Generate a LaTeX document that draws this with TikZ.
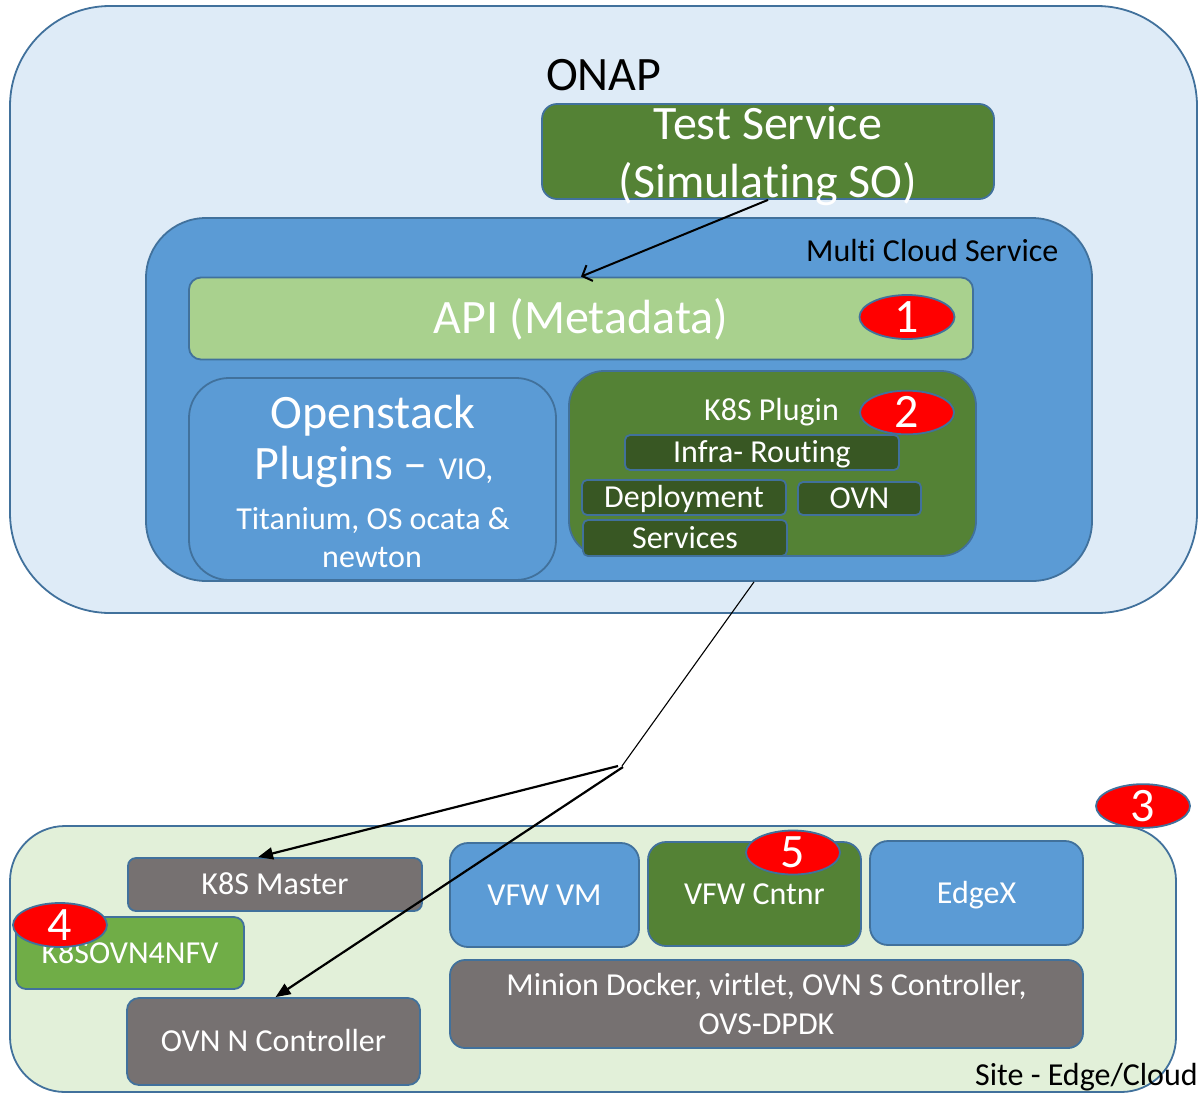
\documentclass[tikz,border=0pt]{standalone}
\usepackage{fontspec}
\setmainfont{Carlito}[Ligatures={NoCommon}]
\usetikzlibrary{shapes.geometric,arrows.meta,calc}
\definecolor{bord}{HTML}{41719C}
\definecolor{onapbg}{HTML}{DEEBF7}
\definecolor{mblue}{HTML}{5B9BD5}
\definecolor{dgreen}{HTML}{548235}
\definecolor{ddgreen}{HTML}{385723}
\definecolor{lgreen}{HTML}{A9D18E}
\definecolor{sitebg}{HTML}{E2F0D9}
\definecolor{mgray}{HTML}{767171}
\definecolor{greentwo}{HTML}{70AD47}
\definecolor{badgered}{HTML}{FF0000}
\begin{document}
\begin{tikzpicture}[x=1pt,y=-1pt,
  box/.style={draw=bord, line width=1.8pt, inner sep=0pt, align=center, text=white},
  fbig/.style={font=\fontsize{48}{58}\selectfont},
  fmid/.style={font=\fontsize{32}{39}\selectfont},
  capb/.style={text height=30.9pt, text depth=0pt},
  capm/.style={text height=20.6pt, text depth=0pt},
  badge/.style={ellipse, draw=bord, line width=1.8pt, fill=badgered, text=white, inner sep=0pt, fbig, capb},
  lbl/.style={inner sep=0pt, anchor=base},
  arrtop/.style={line width=2pt, -{Straight Barb[length=8pt,width=17pt]}},
  arrbot/.style={line width=2.2pt, -{Triangle[length=15pt,width=12pt]}},
  thinline/.style={line width=1.1pt}
]
\useasboundingbox (0,0) rectangle (1198,1093);

% ONAP container
\node[box, fill=onapbg, rounded corners=100pt, minimum width=1187pt, minimum height=607pt] (onap) at (603.5,309.5) {};
\node[lbl, anchor=base west, fbig, text=black] (onaplbl) at (546,90) {ONAP};

% Test service
\node[box, fill=dgreen, rounded corners=15pt, minimum width=452pt, minimum height=95pt, fbig, text height=91pt, text depth=0pt] (ts) at (768,151.5) {Test Service\\(Simulating SO)};

% Multi cloud service
\node[box, fill=mblue, rounded corners=60pt, minimum width=946pt, minimum height=363pt] (mcs) at (619,399.5) {};
\node[lbl, anchor=base west, fmid, text=black] (mcslbl) at (806,261) {Multi Cloud Service};

\node[box, fill=lgreen, rounded corners=12pt, minimum width=784pt, minimum height=82pt, fbig, capb] (api) at (581,318.5) {API (Metadata)};
\node[badge, minimum width=95pt, minimum height=44pt] (b1) at (907,317) {1};

% Openstack plugins
\node[box, fill=mblue, rounded corners=40pt, minimum width=367pt, minimum height=202pt] (os) at (372.5,479) {};
\node[lbl, fbig, text=white] (osa) at (373,428) {Openstack};
\node[lbl, fbig, text=white] (osb) at (374,479) {Plugins – {\fontsize{32}{39}\selectfont VIO,}};
\node[lbl, fmid, text=white] (osc) at (373,529) {Titanium, OS ocata \&};
\node[lbl, fmid, text=white] (osd) at (372,567) {newton};

% K8S plugin
\node[box, fill=dgreen, rounded corners=35pt, minimum width=407pt, minimum height=185pt] (k8sp) at (772.5,463.5) {};
\node[lbl, fmid, text=white] (k8splbl) at (771.5,420) {K8S Plugin};
\node[badge, minimum width=94pt, minimum height=42pt] (b2) at (907,412.5) {2};
\node[box, fill=ddgreen, rounded corners=5pt, minimum width=274pt, minimum height=35pt, fmid, capm] (infra) at (762,452.5) {Infra- Routing};
\node[box, fill=ddgreen, rounded corners=5pt, minimum width=204pt, minimum height=35pt, fmid, capm] (dep) at (684,497.5) {Deployment};
\node[box, fill=ddgreen, rounded corners=5pt, minimum width=123pt, minimum height=33pt, fmid, capm] (ovn) at (859.5,498.5) {OVN};
\node[box, fill=ddgreen, rounded corners=5pt, minimum width=204pt, minimum height=36pt, fmid, capm] (svc) at (685,538) {Services};

% Site
\node[box, fill=sitebg, rounded corners=55pt, minimum width=1166pt, minimum height=266pt] (site) at (593,959) {};
\node[lbl, anchor=base west, fmid, text=black] (sitelbl) at (975,1085) {Site - Edge/Cloud};
\node[badge, minimum width=94pt, minimum height=42pt] (b3) at (1143,806) {3};

\node[box, fill=mgray, rounded corners=8pt, minimum width=294pt, minimum height=53pt, fmid, capm] (k8sm) at (275,884.5) {K8S Master};
\node[box, fill=greentwo, rounded corners=10pt, minimum width=228pt, minimum height=72pt, fmid, capm] (k8so) at (130,953) {K8SOVN4NFV};
\node[badge, minimum width=94pt, minimum height=44pt] (b4) at (60,925) {4};
\node[box, fill=mgray, rounded corners=12pt, minimum width=293pt, minimum height=87pt, fmid, capm] (ovnn) at (273.5,1041.5) {OVN N Controller};

\node[box, fill=mblue, rounded corners=18pt, minimum width=189pt, minimum height=104pt, fmid, capm] (vfwvm) at (544.5,895) {VFW VM};
\node[box, fill=dgreen, rounded corners=18pt, minimum width=213pt, minimum height=104pt, fmid, capm] (vfwc) at (754.5,894) {VFW Cntnr};
\node[badge, minimum width=94pt, minimum height=44pt] (b5) at (793,852.5) {5};
\node[box, fill=mblue, rounded corners=18pt, minimum width=213pt, minimum height=104pt, fmid, capm] (edgex) at (976.5,893) {EdgeX};
\node[box, fill=mgray, rounded corners=15pt, minimum width=633pt, minimum height=88pt, fmid] (minion) at (766.5,1004) {Minion Docker, virtlet, OVN S Controller,\\OVS-DPDK};

% connectors
\draw[arrtop] (ts.south) -- (api.north);
\coordinate (j) at (622,766);
\draw[thinline] ($(mcs.south)+(135,0)$) -- (j);
\draw[arrbot] ($(j)+(-4,0)$) -- ($(k8sm.north)+(-17,0)$);
\draw[arrbot] ($(j)+(1,1)$) -- ($(ovnn.north)+(2,0)$);
\end{tikzpicture}
\end{document}
